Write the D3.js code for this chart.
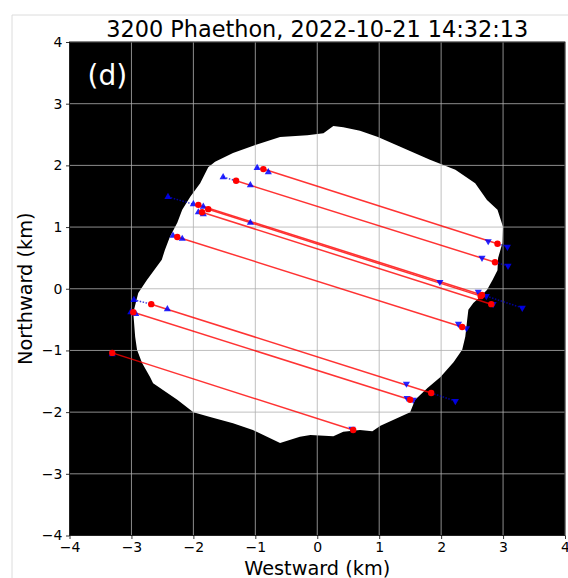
<!DOCTYPE html>
<html>
<head>
<meta charset="utf-8">
<script src="https://cdn.jsdelivr.net/npm/d3@7"></script>
<style>
  body { margin: 0; background: #fff; }
  text { font-family: "DejaVu Sans", sans-serif; }
</style>
</head>
<body>
<svg id="chart" width="568" height="578"></svg>
<script>
// tick values (km)
const xTicks = [-4, -3, -2, -1, 0, 1, 2, 3, 4];
const yTicks = [-4, -3, -2, -1, 0, 1, 2, 3, 4];

// silhouette outline, [west km, north km]
const outline = [
  [0.42, 2.62], [0.69, 2.56], [0.98, 2.46], [1.34, 2.30], [1.82, 2.09], [2.23, 1.93],
  [2.55, 1.71], [2.74, 1.44], [2.91, 1.28], [3.00, 1.00], [2.99, 0.74], [2.92, 0.50],
  [2.91, 0.30], [2.83, 0.14], [2.74, -0.02], [2.63, -0.13], [2.52, -0.23], [2.44, -0.34],
  [2.42, -0.51], [2.39, -0.78], [2.34, -0.99], [2.20, -1.19], [1.99, -1.43], [1.78, -1.61],
  [1.58, -1.80], [1.50, -2.00], [1.02, -2.22], [0.89, -2.31], [0.69, -2.29], [0.42, -2.32],
  [0.26, -2.39], [-0.11, -2.37], [-0.28, -2.40], [-0.60, -2.50], [-1.04, -2.29], [-1.36, -2.18],
  [-1.73, -2.08], [-2.00, -2.00], [-2.26, -1.80], [-2.65, -1.53], [-2.70, -1.43], [-2.83, -1.20],
  [-2.91, -0.99], [-2.94, -0.78], [-2.97, -0.39], [-2.89, -0.07], [-2.75, 0.14], [-2.51, 0.47],
  [-2.46, 0.63], [-2.38, 0.84], [-2.26, 1.07], [-2.18, 1.28], [-2.05, 1.49], [-1.89, 1.71],
  [-1.76, 1.97], [-1.65, 2.06], [-1.36, 2.20], [-1.00, 2.33], [-0.60, 2.46], [-0.16, 2.49],
  [0.10, 2.52], [0.26, 2.64]
];

// chord ends (red)
const chordStart = [
  [-0.87, 1.94], [-1.31, 1.75], [-1.92, 1.36], [-1.76, 1.29], [-1.86, 1.24],
  [-2.26, 0.84], [-2.68, -0.25], [-2.97, -0.38], [-3.31, -1.04]
];
const chordEnd = [
  [2.91, 0.73], [2.87, 0.43], [2.66, -0.10], [2.64, -0.12], [2.81, -0.25],
  [2.34, -0.62], [1.84, -1.69], [1.50, -1.80], [0.58, -2.29]
];

// blue markers
const blueUp = [
  [-0.97, 1.96], [-0.79, 1.89], [-1.52, 1.81], [-1.08, 1.68], [-2.41, 1.49], [-2.00, 1.37],
  [-1.84, 1.33], [-1.92, 1.24], [-1.84, 1.21], [-1.08, 1.07], [-2.33, 0.86], [-2.18, 0.81],
  [-2.96, -0.18], [-2.42, -0.33], [-3.01, -0.38], [-2.93, -0.41], [-3.31, -1.06]
];
const blueDown = [
  [2.76, 0.77], [3.07, 0.68], [2.66, 0.50], [3.08, 0.37], [1.98, 0.11], [2.60, -0.05],
  [2.73, -0.12], [3.31, -0.31], [2.84, -0.25], [2.28, -0.57], [2.41, -0.64], [1.44, -1.54],
  [2.23, -1.82], [1.45, -1.77], [1.55, -1.80], [0.56, -2.27]
];
// dotted blue links [x1, y1, x2, y2]
const blueLinks = [
  [-0.97, 1.96, -0.87, 1.94], [-1.52, 1.81, -1.31, 1.75], [-2.41, 1.49, -2.00, 1.37],
  [2.91, 0.73, 3.07, 0.68], [2.87, 0.43, 3.08, 0.37], [2.73, -0.12, 3.31, -0.31],
  [-2.96, -0.18, -2.68, -0.25], [1.84, -1.69, 2.23, -1.82]
];

const svg = d3.select("#chart");
const margin = { left: 69.5, top: 42, right: 3, bottom: 42.5 };
const W = 568 - margin.left - margin.right;
const H = 578 - margin.top - margin.bottom;

// faint figure frame
svg.append("line").attr("x1", 12).attr("x2", 12).attr("y1", 15).attr("y2", 578)
  .attr("stroke", "#dcdcdc").attr("stroke-width", 1);
svg.append("line").attr("x1", 12).attr("x2", 568).attr("y1", 15).attr("y2", 15)
  .attr("stroke", "#dcdcdc").attr("stroke-width", 1);

const g = svg.append("g").attr("transform", `translate(${margin.left},${margin.top})`);

const x = d3.scaleLinear().domain([-4, 4]).range([0, W]);
const y = d3.scaleLinear().domain([-4, 4]).range([H, 0]);

g.append("rect").attr("width", W).attr("height", H).attr("fill", "#000");

g.append("path")
  .datum(outline)
  .attr("d", d3.line().x(d => x(d[0])).y(d => y(d[1])).curve(d3.curveLinearClosed))
  .attr("fill", "#fff");

// grid
g.append("g").selectAll("line").data(xTicks).join("line")
  .attr("x1", d => x(d)).attr("x2", d => x(d)).attr("y1", 0).attr("y2", H)
  .attr("stroke", "#b0b0b0").attr("stroke-width", 0.8);
g.append("g").selectAll("line").data(yTicks).join("line")
  .attr("y1", d => y(d)).attr("y2", d => y(d)).attr("x1", 0).attr("x2", W)
  .attr("stroke", "#b0b0b0").attr("stroke-width", 0.8);

// dotted blue links
g.append("g").selectAll("line").data(blueLinks).join("line")
  .attr("x1", d => x(d[0])).attr("y1", d => y(d[1]))
  .attr("x2", d => x(d[2])).attr("y2", d => y(d[3]))
  .attr("stroke", "#0000cc").attr("stroke-opacity", 0.75)
  .attr("stroke-width", 1.5).attr("stroke-dasharray", "1.5,1.5");

// chords
g.append("g").selectAll("line").data(chordStart).join("line")
  .attr("x1", d => x(d[0])).attr("y1", d => y(d[1]))
  .attr("x2", (d, i) => x(chordEnd[i][0])).attr("y2", (d, i) => y(chordEnd[i][1]))
  .attr("stroke", "#ff0000").attr("stroke-opacity", 0.8).attr("stroke-width", 1.5);

const tri = d3.symbol().type(d3.symbolTriangle).size(22);
g.append("g").selectAll("path").data(blueUp).join("path")
  .attr("d", tri)
  .attr("transform", d => `translate(${x(d[0])},${y(d[1])})`)
  .attr("fill", "#0000ff").attr("fill-opacity", 0.85);
g.append("g").selectAll("path").data(blueDown).join("path")
  .attr("d", tri)
  .attr("transform", d => `translate(${x(d[0])},${y(d[1])}) rotate(180)`)
  .attr("fill", "#0000ff").attr("fill-opacity", 0.85);

// red dots
g.append("g").selectAll("circle").data(chordStart.concat(chordEnd)).join("circle")
  .attr("cx", d => x(d[0])).attr("cy", d => y(d[1])).attr("r", 3.2)
  .attr("fill", "#ff0000");

// axes
const fmt = d3.format("d");
const xAxis = g.append("g").attr("transform", `translate(0,${H})`)
  .call(d3.axisBottom(x).tickValues(xTicks).tickFormat(fmt).tickSize(3.5).tickPadding(3.5));
const yAxis = g.append("g")
  .call(d3.axisLeft(y).tickValues(yTicks).tickFormat(fmt).tickSize(3.5).tickPadding(3.5));
[xAxis, yAxis].forEach(a => {
  a.select(".domain").remove();
  a.selectAll("line").attr("stroke", "#000").attr("stroke-width", 0.8);
  a.selectAll("text").attr("font-size", 14).attr("font-family", "DejaVu Sans").attr("fill", "#000");
});

// spines
g.append("rect").attr("width", W).attr("height", H)
  .attr("fill", "none").attr("stroke", "#000").attr("stroke-width", 0.8);

// texts
g.append("text").attr("x", W / 2).attr("y", -5).attr("text-anchor", "middle")
  .attr("font-size", 22.4).text("3200 Phaethon, 2022-10-21 14:32:13");
g.append("text").attr("x", 18).attr("y", 43).attr("font-size", 28).attr("fill", "#fff")
  .text("(d)");
g.append("text").attr("x", W / 2).attr("y", H + 39).attr("text-anchor", "middle")
  .attr("font-size", 19.3).text("Westward (km)");
g.append("text").attr("transform", `translate(-38,${H / 2}) rotate(-90)`)
  .attr("text-anchor", "middle").attr("font-size", 19.3).text("Northward (km)");
</script>
</body>
</html>
